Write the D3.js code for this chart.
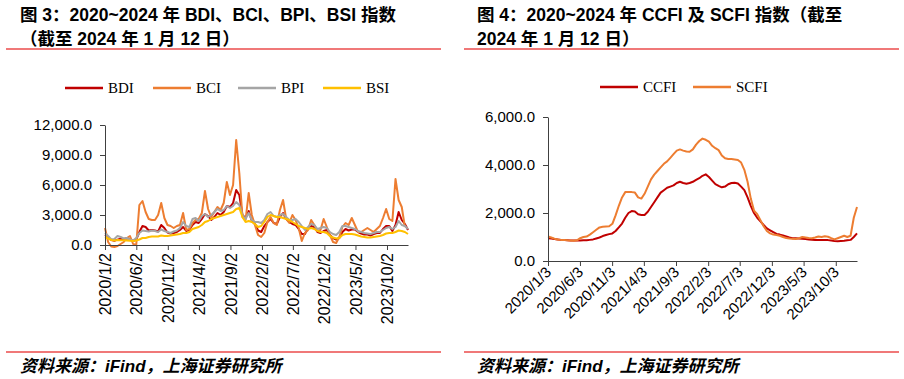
<!DOCTYPE html>
<html>
<head>
<meta charset="utf-8">
<script src="https://cdn.jsdelivr.net/npm/d3@7"></script>
<style>
  body { margin: 0; background: #fff; }
  svg { display: block; }
</style>
</head>
<body>
<div id="chart"></div>
<script>
// ---- data (semi-monthly readings, 2020/1 .. 2024/1/12) ----
var bdi = [1000, 770, 500, 430, 540, 630, 610, 680, 590, 400, 550, 1300, 1900, 1800, 1450, 1500, 1450, 1350, 2000, 1700, 1250, 1150, 1200, 1300,
  1500, 1800, 1400, 1500, 2000, 2300, 2200, 2600, 3100, 2900, 2500, 2800, 3200, 3000, 3300, 3900, 3800, 4200, 5500, 5000, 3000, 2700, 3400, 2400,
  2100, 1450, 1300, 1900, 2300, 2600, 2200, 2100, 2800, 3200, 2600, 2300, 2100, 2000, 1600, 1100, 1100, 1700, 1900, 1800, 1300, 1200, 1400, 1500,
  1000, 700, 550, 700, 1300, 1600, 1450, 1550, 1550, 1300, 1150, 1050, 1050, 950, 1100, 1200, 1200, 1600, 1900, 1900, 1400, 2000, 3300, 2500, 2100, 1500];

var bci = [1700, 300, -150, -200, -100, 100, 300, 700, 900, 100, 0, 4000, 4400, 3300, 2600, 2500, 2500, 3000, 4200, 2700, 2000, 1900, 1700, 1900,
  2000, 3200, 1500, 1600, 2200, 2500, 2600, 3200, 5400, 3600, 2800, 3300, 3800, 3500, 4200, 6300, 5000, 6000, 10500, 7200, 2800, 2500, 5200, 3000,
  2000, 1000, 800, 1200, 2300, 2800, 2200, 2000, 3500, 4500, 2600, 2200, 3000, 2500, 1700, 400, 1200, 1500, 2500, 2000, 1400, 1500, 2600, 1800,
  1000, 300, 200, 800, 1800, 2200, 2000, 2700, 2000, 1300, 1300, 1500, 1700, 1500, 1300, 1600, 1900, 2700, 3600, 2600, 2400, 6600, 4500, 3800, 1800];

var bpi = [1200, 900, 550, 600, 900, 800, 650, 700, 550, 450, 700, 1200, 1450, 1400, 1350, 1450, 1400, 1300, 1550, 1400, 1300, 1200, 1350, 1450,
  1700, 2300, 1900, 1800, 2600, 2700, 2400, 2900, 3100, 2800, 3000, 3300, 3600, 3400, 3500, 3900, 3700, 3900, 4300, 4000, 3000, 2600, 3200, 2500,
  2300, 2300, 2200, 2500, 3100, 3300, 2900, 2800, 3000, 3100, 2800, 2500, 2500, 2600, 2300, 1900, 1500, 1800, 2100, 2000, 1600, 1700, 1800, 1700,
  1300, 1100, 1000, 1300, 1900, 1900, 1800, 1700, 1600, 1400, 1300, 1200, 1150, 1100, 1200, 1300, 1300, 1500, 1700, 1800, 1600, 1800, 2400, 2000, 1900, 1600];

var bsi = [800, 650, 500, 450, 500, 480, 470, 450, 430, 400, 450, 550, 700, 700, 800, 850, 850, 850, 950, 900, 900, 950, 1000, 1050,
  1100, 1200, 1200, 1300, 1600, 1700, 1800, 2000, 2300, 2400, 2600, 2700, 2800, 2900, 3000, 3100, 3200, 3300, 3600, 3700, 2800, 2300, 2400, 2300,
  2100, 1800, 1900, 2300, 2800, 3000, 2900, 2800, 2800, 2700, 2600, 2500, 2300, 2100, 1900, 1800, 1700, 1600, 1700, 1600, 1400, 1300, 1300, 1200,
  900, 750, 650, 700, 1000, 1100, 1100, 1100, 1050, 950, 850, 800, 750, 750, 800, 850, 900, 1000, 1150, 1200, 1200, 1300, 1450, 1400, 1300, 1100];

var ccfi = [950, 940, 920, 900, 880, 870, 860, 850, 850, 850, 850, 860, 860, 880, 900, 940, 980, 1040, 1080, 1120, 1150, 1250, 1400, 1560,
  1800, 2000, 2080, 2060, 1950, 1920, 1920, 2050, 2250, 2450, 2650, 2850, 2950, 3050, 3100, 3150, 3250, 3300, 3250, 3220, 3250, 3300, 3380, 3450,
  3550, 3610, 3500, 3350, 3200, 3130, 3070, 3100, 3200, 3250, 3260, 3230, 3100, 2950, 2650, 2300, 2000, 1800, 1650, 1500, 1360, 1280, 1200, 1130,
  1100, 1060, 1020, 980, 950, 950, 940, 930, 920, 900, 890, 880, 870, 880, 880, 870, 850, 830, 820, 830, 840, 860, 880, 1000, 1150];

var scfi = [1020, 980, 930, 900, 880, 880, 860, 850, 840, 860, 950, 1000, 1020, 1100, 1200, 1300, 1400, 1430, 1440, 1450, 1550, 1900, 2300, 2650,
  2870, 2880, 2870, 2850, 2650, 2600, 2800, 3100, 3400, 3600, 3750, 3900, 4050, 4150, 4300, 4450, 4600, 4650, 4600, 4560, 4550, 4650, 4850, 5000,
  5100, 5050, 4970, 4800, 4700, 4620, 4400, 4280, 4250, 4250, 4230, 4210, 4100, 3800, 3300, 2600, 2100, 1950, 1700, 1450, 1250, 1150, 1100, 1080,
  1050, 1000, 960, 940, 930, 920, 950, 1000, 980, 960, 950, 980, 1020, 1000, 1030, 1010, 950, 900, 950, 1000, 1050, 1000, 1050, 1800, 2250];

var leftTicks = ["2020/1/2", "2020/6/2", "2020/11/2", "2021/4/2", "2021/9/2", "2022/2/2", "2022/7/2", "2022/12/2", "2023/5/2", "2023/10/2"];
var rightTicks = ["2020/1/3", "2020/6/3", "2020/11/3", "2021/4/3", "2021/9/3", "2022/2/3", "2022/7/3", "2022/12/3", "2023/5/3", "2023/10/3"];
var leftNames = ["BDI", "BCI", "BPI", "BSI"];
var rightNames = ["CCFI", "SCFI"];
var leftY = [0, 3000, 6000, 9000, 12000];
var rightY = [0, 2000, 4000, 6000];

var colors = {BDI: "#c00000", BCI: "#ed7d31", BPI: "#a5a5a5", BSI: "#ffc000", CCFI: "#c00000", SCFI: "#ed7d31"};

function pd(s) { var p = s.split("/"); return new Date(+p[0], +p[1] - 1, +p[2]); }
function spread(start, end, n) {
  var a = pd(start).getTime(), b = pd(end).getTime();
  return d3.range(n).map(function(i) { return new Date(a + i * (b - a) / (n - 1)); });
}

var W = 904, H = 379;
var svg = d3.select("#chart").append("svg").attr("width", W).attr("height", H);

var sans = "'Liberation Sans', Arial, 'Noto Sans CJK SC', sans-serif";
var serif = "'Liberation Serif', 'Times New Roman', serif";

// ---- titles, rules, source ----
function header(x0, lines) {
  lines.forEach(function(t, i) {
    svg.append("text").attr("x", x0).attr("y", 21 + i * 24)
      .style("font-family", sans).style("font-weight", "bold").style("font-size", "17.5px")
      .style("fill", "#000").text(t);
  });
}
header(20, ["图 3：2020~2024 年 BDI、BCI、BPI、BSI 指数", "（截至 2024 年 1 月 12 日）"]);
header(477, ["图 4：2020~2024 年 CCFI 及 SCFI 指数（截至", "2024 年 1 月 12 日）"]);

[[6, 441], [464, 899]].forEach(function(r) {
  svg.append("line").attr("x1", r[0]).attr("x2", r[1]).attr("y1", 49).attr("y2", 49)
    .style("stroke", "#f07878").style("stroke-width", 2);
  svg.append("line").attr("x1", r[0]).attr("x2", r[1]).attr("y1", 352).attr("y2", 352)
    .style("stroke", "#f07878").style("stroke-width", 2);
});
[20, 477].forEach(function(x) {
  svg.append("text").attr("x", x).attr("y", 372)
    .style("font-family", sans).style("font-style", "italic").style("font-weight", "bold")
    .style("font-size", "17px").text("资料来源：iFind，上海证券研究所");
});

// ---- generic panel ----
function panel(opt) {
  var dates = spread(opt.start, opt.end, opt.series[0].length);
  var x = d3.scaleTime().domain([pd(opt.start), pd(opt.end)]).range(opt.xr);
  var y = d3.scaleLinear().domain([0, opt.yTicks[opt.yTicks.length - 1]]).range(opt.yr);

  var g = svg.append("g");

  var line = d3.line()
    .x(function(d, i) { return x(dates[i]); })
    .y(function(d) { return y(d); });

  opt.names.forEach(function(n, k) {
    g.append("path").datum(opt.series[k])
      .attr("d", line)
      .style("fill", "none").style("stroke", colors[n])
      .style("stroke-width", 2).style("stroke-linejoin", "round");
  });

  var ya = g.append("g").attr("transform", "translate(" + opt.xr[0] + ",0)")
    .call(d3.axisLeft(y).tickValues(opt.yTicks).tickFormat(d3.format(",.1f")).tickSize(5).tickPadding(8).tickSizeOuter(0));
  var xa = g.append("g").attr("transform", "translate(0," + opt.yr[0] + ")")
    .call(d3.axisBottom(x).tickValues(opt.xTicks.map(pd)).tickFormat(function(d, i) { return opt.xTicks[i]; })
      .tickSize(5).tickSizeOuter(0));

  [ya, xa].forEach(function(a) {
    a.selectAll("path, line").style("stroke", "#404040");
    a.selectAll("text").style("font-family", sans).style("font-size", "15px").style("fill", "#000");
  });

  if (opt.rot === 90) {
    xa.selectAll("text").attr("transform", "rotate(-90)").style("font-size", "16px")
      .attr("x", -8).attr("y", 0).attr("dy", "0.35em").style("text-anchor", "end");
  } else {
    xa.selectAll("text").attr("transform", "rotate(-45)")
      .attr("x", -6).attr("y", 6).attr("dy", "0.35em").style("text-anchor", "end");
  }

  // legend
  var lg = g.append("g");
  opt.names.forEach(function(n, k) {
    var lx = opt.legendX[k];
    lg.append("line").attr("x1", lx).attr("x2", lx + 38).attr("y1", opt.legendY).attr("y2", opt.legendY)
      .style("stroke", colors[n]).style("stroke-width", 2.5);
    lg.append("text").attr("x", lx + 43).attr("y", opt.legendY).attr("dy", "0.35em")
      .style("font-family", serif).style("font-size", "15px").text(n);
  });
}

panel({
  start: "2020/1/2", end: "2024/1/12",
  series: [bdi, bci, bpi, bsi], names: leftNames,
  xr: [105, 408], yr: [245, 125], yTicks: leftY, xTicks: leftTicks, rot: 90,
  legendX: [65, 153, 238, 323], legendY: 88
});

panel({
  start: "2020/1/3", end: "2024/1/12",
  series: [ccfi, scfi], names: rightNames,
  xr: [548, 857], yr: [261, 117], yTicks: rightY, xTicks: rightTicks, rot: 45,
  legendX: [600, 693], legendY: 87
});
</script>
</body>
</html>
